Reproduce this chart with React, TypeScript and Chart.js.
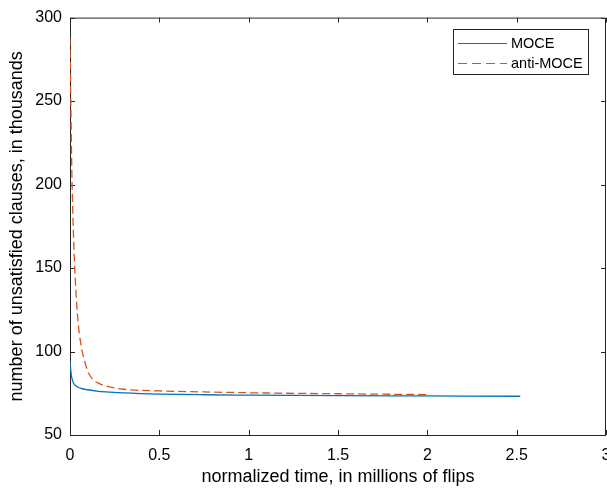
import React, { useEffect, useRef } from "react";
import { Chart, registerables } from "chart.js";

Chart.register(...registerables);

const mocX = [0, 0.004, 0.008, 0.013, 0.02, 0.03, 0.045, 0.07, 0.1, 0.15, 0.2, 0.3, 0.5, 0.75, 1.0, 1.5, 2.0, 2.52];
const mocY = [94.5, 89, 85.5, 83, 81, 79.6, 78.6, 77.7, 77.1, 76.3, 75.8, 75.2, 74.5, 74.1, 73.9, 73.6, 73.4, 73.2];
const antiX = [0, 0.005, 0.01, 0.02, 0.03, 0.045, 0.06, 0.08, 0.1, 0.13, 0.17, 0.22, 0.3, 0.5, 0.75, 1.0, 1.5, 2.0];
const antiY = [288, 245, 210, 168, 142, 118, 105, 95, 88, 83, 80.5, 78.8, 77.4, 76.4, 75.8, 75.3, 74.7, 74.2];
const seriesNames = ["MOCE", "anti-MOCE"];
const colors = ["#0072BD", "#D95319"];
const xTitle = "normalized time, in millions of flips";
const yTitle = "number of unsatisfied clauses, in thousands";

const FONT = "'Liberation Sans', Arial, Helvetica, sans-serif";
const AXIS = "#262626";

const boxPlugin = {
  id: "matlabBox",
  beforeDatasetsDraw(chart: any) {
    const { ctx, chartArea: a, scales } = chart;
    ctx.save();
    ctx.strokeStyle = AXIS;
    ctx.lineWidth = 1;
    ctx.beginPath();
    ctx.rect(a.left + 0.5, a.top + 0.5, a.right - a.left - 1, a.bottom - a.top);
    ctx.stroke();
    const L = 5;
    ctx.beginPath();
    scales.x.ticks.forEach((t: any) => {
      const px = Math.round(scales.x.getPixelForValue(t.value)) + 0.5;
      ctx.moveTo(px, a.bottom);
      ctx.lineTo(px, a.bottom - L);
      ctx.moveTo(px, a.top);
      ctx.lineTo(px, a.top + L);
    });
    scales.y.ticks.forEach((t: any) => {
      const py = Math.round(scales.y.getPixelForValue(t.value)) + 0.5;
      ctx.moveTo(a.left, py);
      ctx.lineTo(a.left + L, py);
      ctx.moveTo(a.right, py);
      ctx.lineTo(a.right - L, py);
    });
    ctx.stroke();
    ctx.restore();
  },
  afterDraw(chart: any) {
    const { ctx } = chart;
    ctx.save();
    const lx = 453, ly = 29, lw = 135, lh = 45;
    ctx.fillStyle = "#ffffff";
    ctx.fillRect(lx, ly, lw, lh);
    ctx.strokeStyle = AXIS;
    ctx.lineWidth = 1;
    ctx.strokeRect(lx + 0.5, ly + 0.5, lw, lh);
    const rows = [43, 63];
    seriesNames.forEach((name, i) => {
      ctx.strokeStyle = colors[i];
      ctx.lineWidth = 1;
      ctx.setLineDash(i === 1 ? [9, 5] : []);
      ctx.beginPath();
      ctx.moveTo(458, rows[i] + 0.5);
      ctx.lineTo(507, rows[i] + 0.5);
      ctx.stroke();
      ctx.setLineDash([]);
      ctx.fillStyle = "#000";
      ctx.font = `14.5px ${FONT}`;
      ctx.textBaseline = "middle";
      ctx.textAlign = "left";
      ctx.fillText(name, 511, rows[i] + 1);
    });
    ctx.restore();
  },
};

export default function App() {
  const ref = useRef<HTMLCanvasElement | null>(null);
  useEffect(() => {
    if (!ref.current) return;
    const chart = new Chart(ref.current, {
      type: "line",
      data: {
        datasets: [
          {
            label: seriesNames[0],
            data: mocX.map((x, i) => ({ x, y: mocY[i] })),
            borderColor: colors[0],
            borderWidth: 1.3,
            pointRadius: 0,
            cubicInterpolationMode: "monotone",
          },
          {
            label: seriesNames[1],
            data: antiX.map((x, i) => ({ x, y: antiY[i] })),
            borderColor: colors[1],
            borderWidth: 1.3,
            borderDash: [8, 4],
            pointRadius: 0,
            cubicInterpolationMode: "monotone",
          },
        ],
      },
      options: {
        responsive: false,
        animation: false,
        layout: { padding: { top: 14, right: 34, left: 0, bottom: 0 } },
        plugins: { legend: { display: false }, tooltip: { enabled: false } },
        scales: {
          x: {
            type: "linear",
            min: 0,
            max: 3,
            ticks: {
              stepSize: 0.5,
              color: "#000",
              font: { family: FONT, size: 16 },
              padding: 11,
              maxRotation: 0,
              callback: (v: any) => String(Math.round(Number(v) * 10) / 10),
            },
            grid: { drawOnChartArea: false, drawTicks: false },
            border: { display: false },
            title: { display: true, text: xTitle, color: "#000", font: { family: FONT, size: 18 }, padding: { top: 0, bottom: 1 } },
            afterFit: (s: any) => { s.height = 54; },
          },
          y: {
            type: "linear",
            min: 50,
            max: 300,
            ticks: { stepSize: 50, color: "#000", font: { family: FONT, size: 16 }, padding: 8 },
            grid: { drawOnChartArea: false, drawTicks: false },
            border: { display: false },
            title: { display: true, text: yTitle, color: "#000", font: { family: FONT, size: 18 }, padding: { top: 6, bottom: 0 } },
            afterFit: (s: any) => { s.width = 70; },
          },
        },
      },
      plugins: [boxPlugin],
    } as any);
    return () => chart.destroy();
  }, []);
  return (
    <div style={{ position: "absolute", left: 0, top: 0, width: 607, height: 489, overflow: "hidden", background: "#fff" }}>
      <canvas ref={ref} width={640} height={489} style={{ display: "block" }} />
    </div>
  );
}
